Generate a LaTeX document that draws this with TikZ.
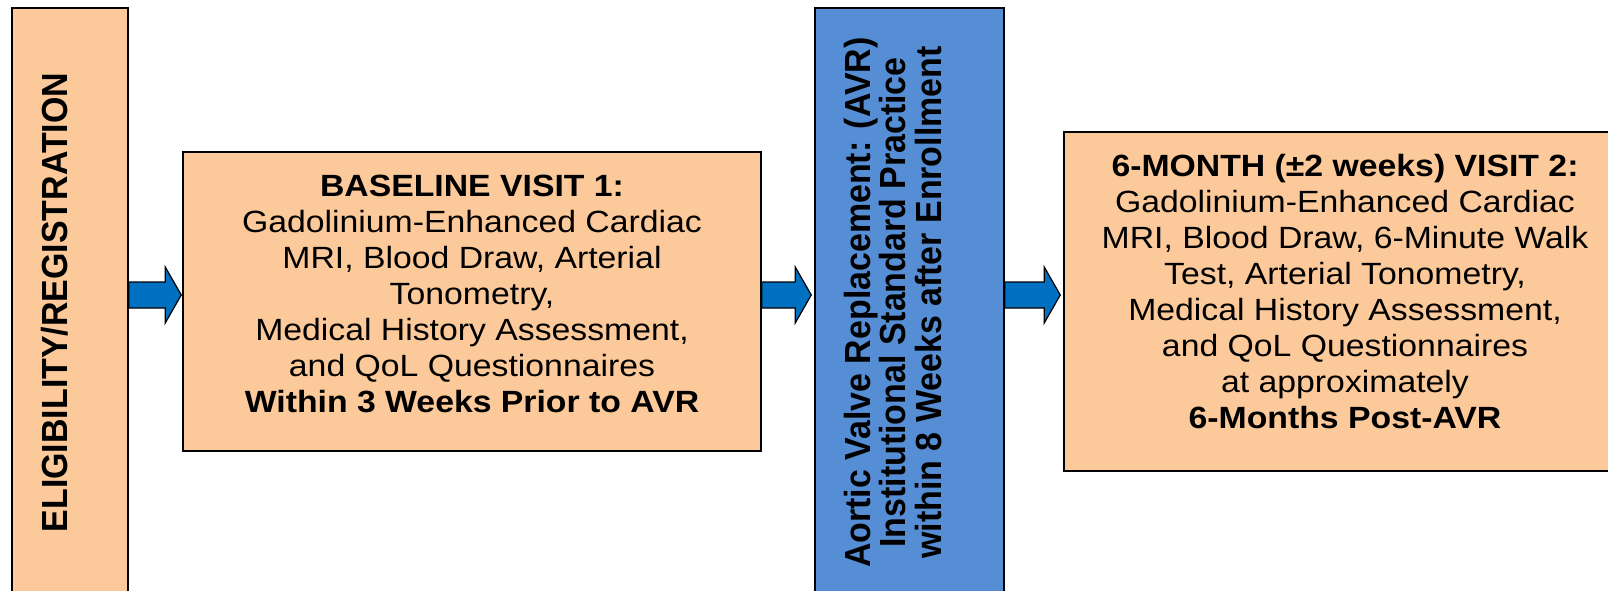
\documentclass[tikz,border=0pt]{standalone}
\usepackage{fontspec}
\usetikzlibrary{calc}
\newfontfamily\hfont{Liberation Sans}[FakeStretch=1.1]
\newfontfamily\vfont{Liberation Sans}[FakeStretch=0.935]
\definecolor{peach}{HTML}{FCC99A}
\definecolor{boxblue}{HTML}{558ED5}
\definecolor{arrblue}{HTML}{0070C0}
\begin{document}
\begin{tikzpicture}[x=1pt,y=1pt,
  stepbox/.style={draw=black,line width=1.5pt,fill=peach,inner sep=0pt},
  avrbox/.style={draw=black,line width=1.5pt,fill=boxblue,inner sep=0pt},
  htext/.style={font=\hfont\fontsize{30.7}{36}\selectfont,align=center,inner sep=0pt,anchor=north},
  vtext/.style={font=\vfont\bfseries\fontsize{36.3}{35.5}\selectfont,align=center,inner sep=0pt,rotate=90},
  blockarrow/.style={draw=black,line width=1.2pt,fill=arrblue,line join=miter}]
\useasboundingbox (0,0) rectangle (1608,590);
% boxes
\node[stepbox,minimum width=116,minimum height=602] (elig) at (70,281) {};
\node[stepbox,minimum width=578,minimum height=299] (base) at (472,288.5) {};
\node[avrbox,minimum width=189,minimum height=602] (avr) at (909.5,281) {};
\node[stepbox,minimum width=566,minimum height=339] (six) at (1347,288.5) {};
% texts
\node[vtext] (eligtxt) at (55,287.5) {ELIGIBILITY/REGISTRATION};
\node[htext] (basetxt) at (472,415) {{\bfseries BASELINE VISIT 1:}\\
  Gadolinium-Enhanced Cardiac\\
  MRI, Blood Draw, Arterial\\
  Tonometry,\\
  Medical History Assessment,\\
  and QoL Questionnaires\\
  {\bfseries Within 3 Weeks Prior to AVR}};
\node[vtext] (avrtxt) at (893,287.5) {Aortic Valve Replacement: (AVR)\\
  Institutional Standard Practice\\
  within 8 Weeks after Enrollment};
\node[htext] (sixtxt) at (1345,436) {{\bfseries 6-MONTH (±2 weeks) VISIT 2:}\\
  Gadolinium-Enhanced Cardiac\\
  MRI, Blood Draw, 6-Minute Walk\\
  Test, Arterial Tonometry,\\
  Medical History Assessment,\\
  and QoL Questionnaires\\
  at approximately\\
  {\bfseries 6-Months Post-AVR}};
% block arrows
\draw[blockarrow] let \p1=(elig.east), \p2=(base.west) in
  (\x1,282pt) -- (\x2-17pt,282pt) -- (\x2-17pt,267pt) -- (\x2-1pt,295pt)
  -- (\x2-17pt,323pt) -- (\x2-17pt,308pt) -- (\x1,308pt) -- cycle;
\draw[blockarrow] let \p1=(base.east), \p2=(avr.west) in
  (\x1,282pt) -- (\x2-19pt,282pt) -- (\x2-19pt,267pt) -- (\x2-3pt,295pt)
  -- (\x2-19pt,323pt) -- (\x2-19pt,308pt) -- (\x1,308pt) -- cycle;
\draw[blockarrow] let \p1=(avr.east), \p2=(six.west) in
  (\x1,282pt) -- (\x2-19pt,282pt) -- (\x2-19pt,267pt) -- (\x2-3pt,295pt)
  -- (\x2-19pt,323pt) -- (\x2-19pt,308pt) -- (\x1,308pt) -- cycle;
\end{tikzpicture}
\end{document}
